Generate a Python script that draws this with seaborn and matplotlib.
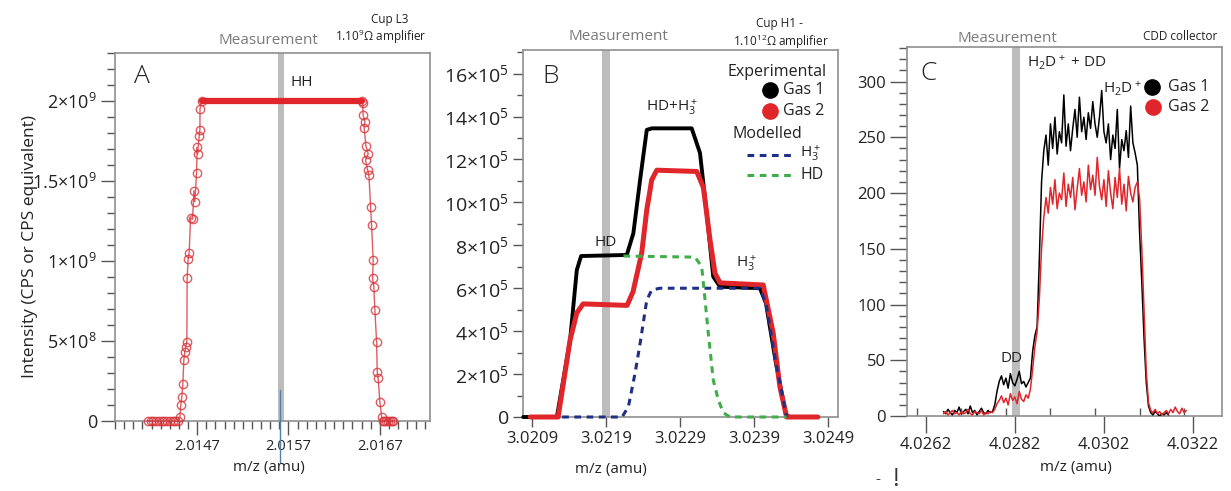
import numpy as np
import matplotlib
matplotlib.use("Agg")
import matplotlib.pyplot as plt
from matplotlib.lines import Line2D
from matplotlib.ticker import MultipleLocator, FixedLocator
import seaborn as sns

# ---------------- Panel A: HH peak on Cup L3 ----------------
A_mz = [2.01416, 2.01419, 2.01422, 2.01425, 2.01428, 2.01431, 2.01434, 2.01437,
        2.01440, 2.01443, 2.01446, 2.01449,
        2.014511, 2.014521, 2.014532, 2.014543, 2.014554, 2.014565, 2.014576,
        2.014587, 2.014590, 2.014601, 2.014612, 2.014628, 2.014650, 2.014664,
        2.014675, 2.014693, 2.014700, 2.014704, 2.014722, 2.014730, 2.014731,
        2.014748, 2.016504,
        2.016512, 2.016518, 2.016537, 2.016529, 2.016548, 2.016573, 2.016544,
        2.016566, 2.016581, 2.016599, 2.016610, 2.016628, 2.016621, 2.016635,
        2.016646, 2.016665, 2.016672, 2.016682, 2.016701, 2.016720,
        2.01673, 2.01675, 2.01677, 2.01679, 2.01681, 2.01683, 2.01685]
A_int = [0, 0, 0, 0, 0, 0, 0, 0, 0, 0, 0, 0,
         0.27e8, 1.00e8, 1.52e8, 2.31e8, 3.81e8, 4.33e8, 4.64e8,
         4.96e8, 8.92e8, 1.01e9, 1.05e9, 1.27e9, 1.26e9, 1.44e9,
         1.37e9, 1.55e9, 1.71e9, 1.67e9, 1.78e9, 1.82e9, 1.95e9,
         2.00e9, 2.00e9,
         1.986e9, 1.91e9, 1.87e9, 1.83e9, 1.72e9, 1.67e9, 1.63e9,
         1.57e9, 1.54e9, 1.34e9, 1.225e9, 1.006e9, 0.892e9, 0.84e9,
         0.694e9, 0.496e9, 0.308e9, 0.267e9, 0.121e9, 0.027e9,
         0, 0, 0, 0, 0, 0, 0]
A_xticks = [2.0147, 2.0157, 2.0167]
A_xticklabels = ["2.0147", "2.0157", "2.0167"]
A_yticks = [0, 5e8, 1e9, 1.5e9, 2e9]
A_yticklabels = ["0", r"$5{\times}10^8$", r"$1{\times}10^9$", r"$1.5{\times}10^9$", r"$2{\times}10^9$"]
A_measure = (2.015584, 2.01565)
A_marker_line = (2.015611, 1.94e8, -2.6e8)

# ---------------- Panel B: mass 3 (HD + H3+) on Cup H1 ----------------
B_gas1_mz = [3.020783, 3.021237, 3.021416, 3.021506, 3.021564, 3.022180, 3.022269,
             3.022360, 3.022450, 3.022521, 3.023056, 3.023168, 3.023258, 3.023347,
             3.023438, 3.023977, 3.024058, 3.024193, 3.024328, 3.024382]
B_gas1_int = [0, 0, 3.6e5, 6.85e5, 7.5e5, 7.55e5, 8.56e5,
              11.05e5, 13.38e5, 13.45e5, 13.45e5, 12.3e5, 9.5e5, 6.54e5,
              6.07e5, 6.0e5, 5.3e5, 2.5e5, 0.1e5, 0]
B_gas2_mz = [3.020877, 3.021254, 3.021416, 3.021506, 3.021591, 3.022184, 3.022265,
             3.022382, 3.022450, 3.022517, 3.022585, 3.023124, 3.023213, 3.023258,
             3.023303, 3.023370, 3.023438, 3.024021, 3.024156, 3.024246, 3.024337,
             3.024759]
B_gas2_int = [0, 0, 3.6e5, 4.85e5, 5.27e5, 5.2e5, 5.84e5,
              7.65e5, 9.65e5, 11.05e5, 11.5e5, 11.44e5, 10.7e5, 9.5e5,
              8.25e5, 6.7e5, 6.25e5, 6.15e5, 3.9e5, 1.4e5, 0,
              0]
B_h3_mz = [3.021308, 3.022117, 3.022202, 3.022292, 3.022360, 3.022450, 3.022517,
           3.022629, 3.023977, 3.024058, 3.024193, 3.024337]
B_h3_int = [0, 0, 0.48e5, 2.04e5, 3.43e5, 5.45e5, 5.92e5,
            6.0e5, 6.0e5, 5.3e5, 2.5e5, 0]
B_hd_mz = [3.022135, 3.023101, 3.023191, 3.023235, 3.023280, 3.023347, 3.023415,
           3.023482, 3.023572, 3.024337]
B_hd_int = [7.5e5, 7.45e5, 7.0e5, 5.5e5, 3.9e5, 1.72e5, 0.8e5,
            0.2e5, 0, 0]
B_xticks = [3.0209, 3.0219, 3.0229, 3.0239, 3.0249]
B_xticklabels = ["3.0209", "3.0219", "3.0229", "3.0239", "3.0249"]
B_yticks = [0, 2e5, 4e5, 6e5, 8e5, 10e5, 12e5, 14e5, 16e5]
B_yticklabels = ["0"] + [r"$%d{\times}10^5$" % v for v in (2, 4, 6, 8, 10, 12, 14, 16)]
B_measure = (3.021843, 3.021955)

# ---------------- Panel C: mass 4 (H2D+ + DD) on CDD ----------------
C_gas1_int = [4, 2, 6, 3, 1, 5, 3, 8, 2, 4, 6, 2, 9, 3, 5, 1, 4, 7, 3, 2, 5, 3, 4,
              10, 22, 31,
              36, 28, 34, 25, 38, 30, 27, 33, 40, 29, 31, 26, 30,
              34, 58, 72, 80, 140, 210, 238,
              252, 225, 262, 240, 268, 235, 255, 245, 288, 242,
              262, 238, 258, 275, 250, 286, 255, 268, 248, 272,
              258, 282, 262, 250, 268, 292, 255, 245, 262, 230,
              252, 240, 275, 222, 248, 238, 256, 232, 278, 245,
              236,
              225, 165, 120, 70, 30, 9,
              3, 1, 4, 2, 0, 2, 1, 3, 1]
C_gas2_int = [2, 4, 1, 3, 5, 2, 3, 1, 4, 2, 3, 6, 2, 1, 4, 3, 2, 5, 1, 3, 2, 4, 3,
              6, 11, 14,
              18, 12, 16, 10, 20, 14, 17, 11, 22, 15, 13, 19, 16,
              24, 42, 62, 76, 105, 150, 178,
              196, 182, 205, 190, 212, 186, 200, 194, 218, 188,
              208, 196, 214, 185, 204, 222, 198, 210, 192, 225,
              203, 216, 198, 232, 206, 194, 212, 188, 220, 200,
              186, 214, 196, 222, 190, 208, 184, 215, 200, 192,
              205,
              210, 195, 150, 95, 40, 12,
              5, 3, 6, 2, 4, 1, 3, 5, 2, 6, 3, 8, 4, 2, 7, 3, 5]
C_scan_start = 4.0266
C_scan_step = 0.00005
C_gas1_mz = C_scan_start + C_scan_step * np.arange(len(C_gas1_int))
C_gas2_mz = C_scan_start + C_scan_step * np.arange(len(C_gas2_int))
C_xticks = [4.0262, 4.0282, 4.0302, 4.0322]
C_xticklabels = ["4.0262", "4.0282", "4.0302", "4.0322"]
C_yticks = [0, 50, 100, 150, 200, 250, 300]
C_yticklabels = ["0", "50", "100", "150", "200", "250", "300"]
C_measure = (4.028128, 4.028314)

# ---------------- style ----------------
sns.set_theme(style="ticks")
FONT = "Open Sans"
plt.rcParams["font.family"] = [FONT, "DejaVu Sans"]
plt.rcParams["mathtext.fontset"] = "custom"
plt.rcParams["mathtext.rm"] = FONT
plt.rcParams["mathtext.it"] = FONT
plt.rcParams["mathtext.bf"] = FONT
plt.rcParams["mathtext.sf"] = FONT
plt.rcParams["mathtext.default"] = "regular"

RED = "#e0262b"
RED_A = "#d8343a"
NAVY = "#1f2f86"
GREEN = "#3fae49"
BAND = "#bdbdbd"
SPINE = "#8f8f8f"
TXT = "#222222"
MEAS = "#7a7a7a"

W, H = 1231, 491
fig = plt.figure(figsize=(W / 100, H / 100), dpi=100)


def fx(px):
    return px / W


def fy(py):
    return 1 - py / H


def make_axes(left, top, right, bottom):
    return fig.add_axes([fx(left), fy(bottom), (right - left) / W, (bottom - top) / H])


axA = make_axes(115, 53, 430, 421)
axB = make_axes(523, 50, 838, 417)
axC = make_axes(907, 47, 1222, 416)


def style_axes(ax, xfs, yfs, major_len, minor_len):
    for s in ax.spines.values():
        s.set_color(SPINE)
        s.set_linewidth(1.2)
    ax.tick_params(which="major", direction="out", length=major_len, width=1,
                   color="#555555", labelcolor=TXT, pad=3)
    ax.tick_params(axis="x", which="major", labelsize=xfs)
    ax.tick_params(axis="y", which="major", labelsize=yfs)
    ax.tick_params(which="minor", direction="out", length=minor_len, width=1,
                   color="#555555")
    ax.set_xlabel("")
    ax.set_ylabel("")


# ----- Panel A -----
axA.axvspan(*A_measure, color=BAND, lw=0, zorder=0)
sns.lineplot(x=A_mz, y=A_int, ax=axA, sort=False, estimator=None, color=RED_A,
             lw=1.0, marker="o", ms=6, mfc="none", mec=RED_A, mew=1.0,
             alpha=0.8, clip_on=False, zorder=3)
plateau = [i for i, v in enumerate(A_int) if v >= 2.0e9]
sns.lineplot(x=[A_mz[i] for i in plateau], y=[A_int[i] for i in plateau], ax=axA,
             sort=False, estimator=None, color=RED, lw=4.5, solid_capstyle="round",
             zorder=4)
axA.plot([A_marker_line[0]] * 2, A_marker_line[1:], color="#4f7fb0", lw=1.0,
         clip_on=False, zorder=5)
axA.set_xlim(2.01380, 2.01725)
axA.set_ylim(0, 2.3e9)
axA.xaxis.set_major_locator(FixedLocator(A_xticks))
axA.set_xticklabels(A_xticklabels)
axA.xaxis.set_minor_locator(MultipleLocator(0.0001))
axA.yaxis.set_major_locator(FixedLocator(A_yticks))
axA.set_yticklabels(A_yticklabels)
axA.yaxis.set_minor_locator(MultipleLocator(1e8))
style_axes(axA, 10.5, 13, 10, 6)

# ----- Panel B -----
axB.axvspan(*B_measure, color=BAND, lw=0, zorder=0)
sns.lineplot(x=B_gas1_mz, y=B_gas1_int, ax=axB, sort=False, estimator=None,
             color="black", lw=2.8, clip_on=False, zorder=3)
sns.lineplot(x=B_gas2_mz, y=B_gas2_int, ax=axB, sort=False, estimator=None,
             color=RED, lw=3.6, clip_on=False, zorder=4)
sns.lineplot(x=B_h3_mz, y=B_h3_int, ax=axB, sort=False, estimator=None,
             color=NAVY, lw=2.2, linestyle=(0, (2.2, 1.8)), clip_on=False, zorder=5)
sns.lineplot(x=B_hd_mz, y=B_hd_int, ax=axB, sort=False, estimator=None,
             color=GREEN, lw=2.2, linestyle=(0, (2.2, 1.8)), clip_on=False, zorder=5)
axB.set_xlim(3.02078, 3.02503)
axB.set_ylim(0, 17.1e5)
axB.xaxis.set_major_locator(FixedLocator(B_xticks))
axB.set_xticklabels(B_xticklabels)
axB.yaxis.set_major_locator(FixedLocator(B_yticks))
axB.set_yticklabels(B_yticklabels)
axB.yaxis.set_minor_locator(MultipleLocator(1e5))
style_axes(axB, 12, 14, 7, 4)

# ----- Panel C -----
axC.axvspan(*C_measure, color=BAND, lw=0, zorder=0)
sns.lineplot(x=C_gas1_mz, y=C_gas1_int, ax=axC, sort=False, estimator=None,
             color="black", lw=1.1, zorder=3)
sns.lineplot(x=C_gas2_mz, y=C_gas2_int, ax=axC, sort=False, estimator=None,
             color=RED, lw=1.1, zorder=4)
axC.set_xlim(4.02578, 4.03285)
axC.set_ylim(0, 331)
axC.xaxis.set_major_locator(FixedLocator(C_xticks))
axC.set_xticklabels(C_xticklabels)
axC.xaxis.set_minor_locator(MultipleLocator(0.001))
axC.yaxis.set_major_locator(FixedLocator(C_yticks))
axC.set_yticklabels(C_yticklabels)
axC.yaxis.set_minor_locator(MultipleLocator(10))
style_axes(axC, 12, 12, 12, 6)
axC.tick_params(axis="x", which="minor", direction="in", length=6)

# ---------------- annotations ----------------
def ftext(px, py, s, size, color=TXT, ha="center", va="center", **kw):
    fig.text(fx(px), fy(py), s, fontsize=size, color=color, ha=ha, va=va, **kw)


# y-axis title
ftext(30, 247, "Intensity (CPS or CPS equivalent)", 12.5, rotation=90)

# x-axis titles
ftext(269, 467, "m/z (amu)", 11)
ftext(611, 470, "m/z (amu)", 11)
ftext(1076, 468, "m/z (amu)", 11)

# headers above panels
ftext(268, 41, "Measurement", 11, color=MEAS)
ftext(618, 37, "Measurement", 11, color=MEAS)
ftext(1007, 38, "Measurement", 11, color=MEAS)
ftext(390, 19, "Cup L3", 8.5)
ftext(381, 37, r"1.10$^9$Ω amplifier", 8.5)
ftext(779, 24, "Cup H1 -", 8.5)
ftext(781, 42, r"1.10$^{12}$Ω amplifier", 8.5)
ftext(1180, 37, "CDD collector", 8.5)

# panel letters and peak labels
ftext(142, 77, "A", 19, fontweight="light")
ftext(551, 77, "B", 19, fontweight="light")
ftext(929, 73, "C", 19, fontweight="light")
ftext(302, 83, "HH", 11)
ftext(606, 242, "HD", 11)
ftext(672, 107, r"HD+H$_3^+$", 11)
ftext(746, 263, r"H$_3^+$", 11)
ftext(1067, 63, r"H$_2$D$^+$ + DD", 11)
ftext(1122, 89, r"H$_2$D$^+$", 11)
ftext(1012, 359, "DD", 11)

# panel B key
ftext(827, 72, "Experimental", 11.5, ha="right")
fig.add_artist(Line2D([fx(770)], [fy(90)], transform=fig.transFigure, marker="o",
                      ms=11, color="black", lw=0))
ftext(783, 90, "Gas 1", 11.5, ha="left")
fig.add_artist(Line2D([fx(770)], [fy(111)], transform=fig.transFigure, marker="o",
                      ms=11, color=RED, lw=0))
ftext(783, 111, "Gas 2", 11.5, ha="left")
ftext(767, 134, "Modelled", 11.5)
fig.add_artist(Line2D([fx(747), fx(792)], [fy(155)] * 2, transform=fig.transFigure,
                      color=NAVY, lw=2.2, linestyle=(0, (2.2, 1.8))))
ftext(800, 153, r"H$_3^+$", 11, ha="left")
fig.add_artist(Line2D([fx(747), fx(792)], [fy(175)] * 2, transform=fig.transFigure,
                      color=GREEN, lw=2.2, linestyle=(0, (2.2, 1.8))))
ftext(800, 175, "HD", 11.5, ha="left")

# panel C key
fig.add_artist(Line2D([fx(1152)], [fy(87)], transform=fig.transFigure, marker="o",
                      ms=11, color="black", lw=0))
ftext(1168, 87, "Gas 1", 11.5, ha="left")
fig.add_artist(Line2D([fx(1153)], [fy(107)], transform=fig.transFigure, marker="o",
                      ms=11, color=RED, lw=0))
ftext(1168, 107, "Gas 2", 11.5, ha="left")

# stray marks below panel C
ftext(878, 479, "-", 11, color="#444444")
ftext(895, 480, "!", 18, color="#333333")

fig.savefig("out.png", dpi=100)
